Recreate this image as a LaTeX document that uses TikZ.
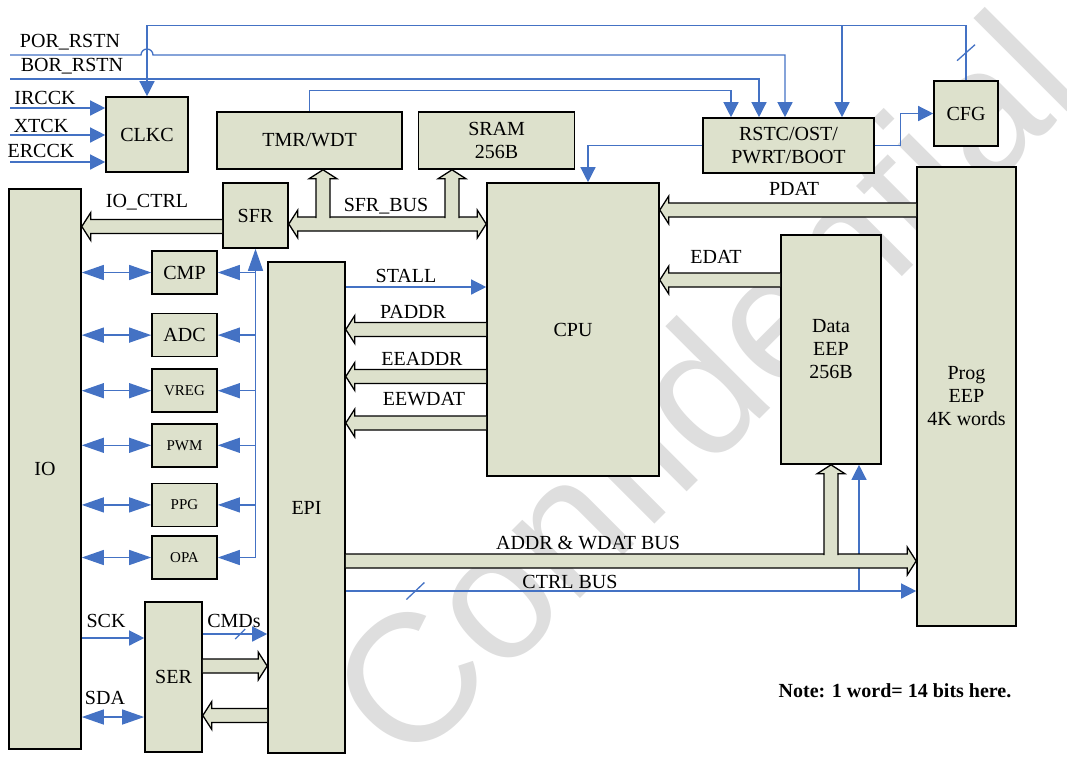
\documentclass[tikz,border=0pt]{standalone}
\usepackage{fontspec}
\setmainfont{Liberation Serif}
\newfontfamily\wmfont{Liberation Sans}
\usetikzlibrary{positioning, arrows.meta, calc}
\definecolor{boxfill}{RGB}{221,225,204}
\definecolor{sigblue}{RGB}{68,114,196}
\newcommand\busw{7pt}
\newcommand\bush{14pt}
\newcommand\busl{9pt}

\begin{document}
\begin{tikzpicture}[
    x=1pt, y=-1pt,
    every node/.style  = {font=\fontsize{20}{23}\selectfont},
    node distance      = 12pt and 15pt,
        blockNode/.style = {rectangle, draw=black, fill=boxfill, line width=1.6pt, align=center, inner sep=0pt},
        smallNode/.style = {blockNode, minimum width=65pt, minimum height=43pt},
        smallFont/.style = {font=\fontsize{15}{17}\selectfont},
        labelNode/.style = {inner sep=0pt, anchor=base},
        sig/.style       = {draw=sigblue, line width=1.3pt, -{Triangle[length=15pt, width=15pt]}},
        sigL/.style      = {draw=sigblue, line width=1.3pt, -{Triangle[length=22pt, width=15pt]}},
        sigLL/.style     = {draw=sigblue, line width=1.3pt, {Triangle[length=22pt, width=15pt]}-{Triangle[length=22pt, width=15pt]}},
        tick/.style      = {draw=sigblue, line width=1.3pt},
        bus/.style       = {draw=black, fill=boxfill, line width=1.3pt,
            to path={($(\tikztostart)!\busw!90:(\tikztotarget)$)
                -- ($(\tikztotarget)!\busl!(\tikztostart)!\busw!90:(\tikztotarget)$)
                -- ($(\tikztotarget)!\busl!(\tikztostart)!\bush!90:(\tikztotarget)$)
                -- (\tikztotarget)
                -- ($(\tikztotarget)!\busl!(\tikztostart)!\bush!-90:(\tikztotarget)$)
                -- ($(\tikztotarget)!\busl!(\tikztostart)!\busw!-90:(\tikztotarget)$)
                -- ($(\tikztostart)!\busw!-90:(\tikztotarget)$)}}
]

\useasboundingbox (0,0) rectangle (1067,756);

% watermark
\node[rotate=45, text=black!13, font=\wmfont\fontsize{182}{182}\selectfont, inner sep=0pt] (mark) at (701,386) {Confidential};

% blocks
\node[blockNode, minimum width=82pt, minimum height=75pt] (clkc) at (147,134.5) {CLKC};
\node[blockNode, minimum width=185pt, minimum height=57pt] (tmr) at (309.5,140.5) {TMR/WDT};
\node[blockNode, minimum width=156pt, minimum height=57pt, right=15pt of tmr] (sram) {SRAM\\256B};
\node[blockNode, minimum width=171pt, minimum height=55pt] (rstc) at (788.5,145.5) {RSTC/OST/\\PWRT/BOOT};
\node[blockNode, minimum width=64pt, minimum height=65pt] (cfg) at (966,113.5) {CFG};
\node[blockNode, minimum width=72pt, minimum height=560pt] (io) at (45,469) {IO};
\node[blockNode, minimum width=65pt, minimum height=65pt] (sfr) at (255.5,215.5) {SFR};
\node[blockNode, minimum width=172pt, minimum height=293pt] (cpu) at (573,329.5) {CPU};
\node[blockNode, minimum width=77pt, minimum height=491pt] (epi) at (306.5,507.5) {EPI};
\node[blockNode, minimum width=100pt, minimum height=229pt] (data) at (831,349.5) {Data\\EEP\\256B};
\node[blockNode, minimum width=99pt, minimum height=459pt] (prog) at (966.5,396.5) {Prog\\EEP\\4K words};
\node[blockNode, minimum width=57pt, minimum height=150pt] (ser) at (173.5,677) {SER};

\node[smallNode] (cmp) at (184.5,272.5) {CMP};
\node[smallNode, below=18pt of cmp] (adc) {ADC};
\node[smallNode, smallFont, below=11pt of adc] (vreg) {VREG};
\node[smallNode, smallFont, below=10pt of vreg] (pwm) {PWM};
\node[smallNode, smallFont, below=15pt of pwm] (ppg) {PPG};
\node[smallNode, smallFont, below=8pt of ppg] (opa) {OPA};

% labels
\node[labelNode] (porlbl) at (70,47) {POR\_RSTN};
\node[labelNode] (borlbl) at (72,71.5) {BOR\_RSTN};
\node[labelNode] (irclbl) at (45,104) {IRCCK};
\node[labelNode] (xtlbl) at (41,132) {XTCK};
\node[labelNode] (erclbl) at (41,157) {ERCCK};
\node[labelNode] (ioctrllbl) at (147,207) {IO\_CTRL};
\node[labelNode] (sfrbuslbl) at (386,211) {SFR\_BUS};
\node[labelNode] (stalllbl) at (406,282) {STALL};
\node[labelNode] (paddrlbl) at (413,318) {PADDR};
\node[labelNode] (eeaddrlbl) at (422,365) {EEADDR};
\node[labelNode] (eewdatlbl) at (424,405) {EEWDAT};
\node[labelNode] (pdatlbl) at (794,195) {PDAT};
\node[labelNode] (edatlbl) at (716,263) {EDAT};
\node[labelNode] (addrlbl) at (588,549) {ADDR \& WDAT BUS};
\node[labelNode] (ctrllbl) at (570,588) {CTRL BUS};
\node[labelNode] (scklbl) at (106,627) {SCK};
\node[labelNode] (cmdlbl) at (234,627) {CMDs};
\node[labelNode] (sdalbl) at (105,704) {SDA};
\node[labelNode, font=\fontsize{20}{23}\selectfont\bfseries] (note) at (895,697) {Note: 1 word= 14 bits here.};

% clocks and resets
\coordinate (ircck) at (10,108);
\coordinate (xtck) at (10,135);
\coordinate (ercck) at (10,162);
\coordinate (por) at (10,55);
\coordinate (bor) at (10,79);
\draw[sig] (ircck) -- (ircck -| clkc.west);
\draw[sig] (xtck) -- (xtck -| clkc.west);
\draw[sig] (ercck) -- (ercck -| clkc.west);
\draw[sig] (por) -- ($(por -| clkc.north)+(-6,0)$) arc[start angle=180, end angle=0, radius=6pt] -| ($(rstc.north)+(-3.5,0)$);
\draw[sig] (bor) -| ($(rstc.north)+(-29.5,0)$);
\draw[sig] (tmr.north) -- ++(0,-21) -| ($(rstc.north)+(-57.5,0)$);
\draw[sig] (cfg.north) -- coordinate[pos=0.5] (cfgtick) ($(cfg.north)+(0,-55)$) -| (clkc.north);
\draw[tick] ($(cfgtick)+(-9,8)$) -- ($(cfgtick)+(9,-8)$);
\coordinate (topjoin) at ($(cfg.north)+(-124,-55)$);
\draw[sig] (topjoin) -- (topjoin |- rstc.north);
\draw[sig] (rstc.west) -| ($(cpu.north)+(15,0)$);
\draw[sig] (rstc.east) -- ++(26,0) |- (cfg.west);

% peripherals
\coordinate (ctl) at (opa.east -| sfr.south);
\draw[sigL] (ctl) -- (sfr.south);
\draw[sigL] (ctl |- cmp) -- (cmp.east);
\draw[sigL] (ctl |- adc) -- (adc.east);
\draw[sigL] (ctl |- vreg) -- (vreg.east);
\draw[sigL] (ctl |- pwm) -- (pwm.east);
\draw[sigL] (ctl |- ppg) -- (ppg.east);
\draw[sigL] (ctl) -- (opa.east);
\draw[sigLL] (io.east |- cmp) -- (cmp.west);
\draw[sigLL] (io.east |- adc) -- (adc.west);
\draw[sigLL] (io.east |- vreg) -- (vreg.west);
\draw[sigLL] (io.east |- pwm) -- (pwm.west);
\draw[sigLL] (io.east |- ppg) -- (ppg.west);
\draw[sigLL] (io.east |- opa) -- (opa.west);

% serial port
\draw[sig] (io.east |- 0,638) -- (ser.west |- 0,638);
\draw[sigLL] (io.east |- 0,717) -- (ser.west |- 0,717);
\draw[sig] (ser.east |- 0,634) -- coordinate[pos=0.58] (cmdtick) (epi.west |- 0,634);
\draw[tick] ($(cmdtick)+(-5,5)$) -- ($(cmdtick)+(5,-5)$);

% epi and cpu signals
\draw[sig] (epi.east |- 0,287) -- (cpu.west |- 0,287);
\draw[sig] (epi.east |- 0,591) -- coordinate[pos=0.122] (ctrltick) (prog.west |- 0,591);
\draw[tick] ($(ctrltick)+(-9,8.5)$) -- ($(ctrltick)+(9,-8.5)$);
\coordinate (ctrljoin) at (859,591);
\draw[sig] (ctrljoin) -- (ctrljoin |- data.south);

% buses
\draw[bus] (sfr.west |- 0,226.5) to (io.east |- 0,226.5);
\coordinate (sfrbus) at (380,224);
\draw[bus] (sfrbus) to (sfrbus -| sfr.east);
\draw[bus] (sfrbus) to (sfrbus -| cpu.west);
\coordinate (tmrjoin) at (323,218);
\coordinate (sramjoin) at (452,218);
\draw[bus] (tmrjoin) to (tmrjoin |- tmr.south);
\draw[bus] (sramjoin) to (sramjoin |- sram.south);

\draw[bus] (cpu.west |- 0,329.5) to (epi.east |- 0,329.5);
\draw[bus] (cpu.west |- 0,376.5) to (epi.east |- 0,376.5);
\draw[bus] (cpu.west |- 0,423) to (epi.east |- 0,423);
\draw[bus] (prog.west |- 0,210) to (cpu.east |- 0,210);
\draw[bus] (data.west |- 0,280) to (cpu.east |- 0,280);

\draw[bus] (epi.east |- 0,561) to (prog.west |- 0,561);
\coordinate (datajoin) at (data.south |- 0,555);
\draw[bus] (datajoin) to (data.south);

\draw[bus] (ser.east |- 0,666) to (epi.west |- 0,666);
\draw[bus] (epi.west |- 0,715.5) to (ser.east |- 0,715.5);

\end{tikzpicture}
\end{document}
